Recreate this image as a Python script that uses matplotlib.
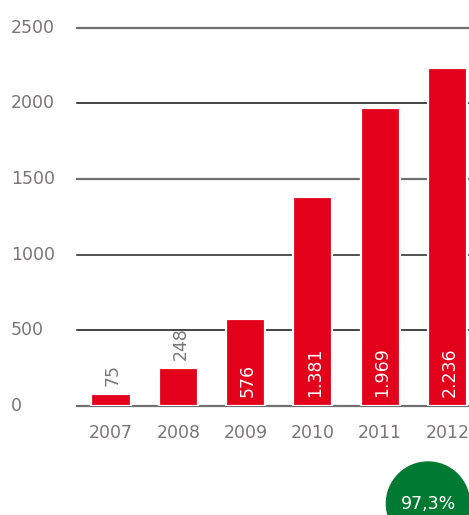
import matplotlib
matplotlib.use("Agg")
import matplotlib.pyplot as plt
from matplotlib.patches import Circle
from matplotlib.transforms import blended_transform_factory, offset_copy

plt.rcParams['font.family'] = ['DejaVu Sans']

years = ["2007", "2008", "2009", "2010", "2011", "2012"]
values = [75, 248, 576, 1381, 1969, 2236]
value_labels = ["75", "248", "576", "1.381", "1.969", "2.236"]
y_ticks = [0, 500, 1000, 1500, 2000, 2500]
share_label = "97,3%"

RED = "#E2001A"
GREY = "#7a7576"
GREEN = "#007A33"
FS = 12.5

W, H = 469, 515
fig = plt.figure(figsize=(W / 100, H / 100), dpi=100)

# axes: y=0 at 405.7px, y=2500 at 27.7px from top; x from 77px to right edge
y0_px, y2500_px = 405.7, 27.7
px_per_unit = (y0_px - y2500_px) / 2500
ymax = 2550
top_px = y0_px - ymax * px_per_unit
ax = fig.add_axes([77 / W, (H - y0_px) / H, (W - 77) / W, (y0_px - top_px) / H])
ax.set_ylim(0, ymax)
ax.set_xlim(-0.505, 5.32)
ax.axis("off")

# horizontal rules
rule_styles = {0: ("#6f6f6f", 1.6), 500: ("#111111", 1.1), 1000: ("#222222", 1.1),
               1500: ("#6f6f6f", 1.6), 2000: ("#111111", 1.1), 2500: ("#6f6f6f", 1.6)}
for t in y_ticks:
    c, lw = rule_styles[t]
    ax.axhline(t, color=c, lw=lw, zorder=1, clip_on=False)

x = list(range(len(years)))
ax.bar(x, values, width=0.58, color=RED, edgecolor="white", linewidth=1.6, zorder=2)

# value labels: white inside tall bars, grey above short ones
for xi, v, lab in zip(x, values, value_labels):
    tr = offset_copy(ax.transData, fig=fig, x=1.5, y=6, units="points")
    if v > 400:
        ax.text(xi, 0, lab, rotation=90, ha="center", va="bottom", color="white",
                fontsize=FS, transform=tr, zorder=3)
    else:
        ax.text(xi, v, lab, rotation=90, ha="center", va="bottom", color=GREY,
                fontsize=FS, transform=tr, zorder=3)

# year labels
for xi, yr in zip(x, years):
    ax.text(xi, 0, yr, ha="center", va="center", color=GREY, fontsize=FS,
            transform=offset_copy(ax.transData, fig=fig, x=0, y=-20, units="points"),
            clip_on=False)

# y tick labels, left-aligned near figure edge
btr = blended_transform_factory(fig.transFigure, ax.transData)
for t in y_ticks:
    ax.text(11 / W, t, str(t), ha="left", va="center", color=GREY, fontsize=FS,
            transform=btr, clip_on=False)

# green badge in the lower right corner
ov = fig.add_axes([0, 0, 1, 1], zorder=5)
ov.set_xlim(0, W)
ov.set_ylim(H, 0)
ov.axis("off")
ov.add_patch(Circle((428, 503.6), 41.6, color=GREEN, clip_on=True))
ov.text(428, 504, share_label, ha="center", va="center", color="white", fontsize=FS)

fig.savefig("out.png", dpi=100)
